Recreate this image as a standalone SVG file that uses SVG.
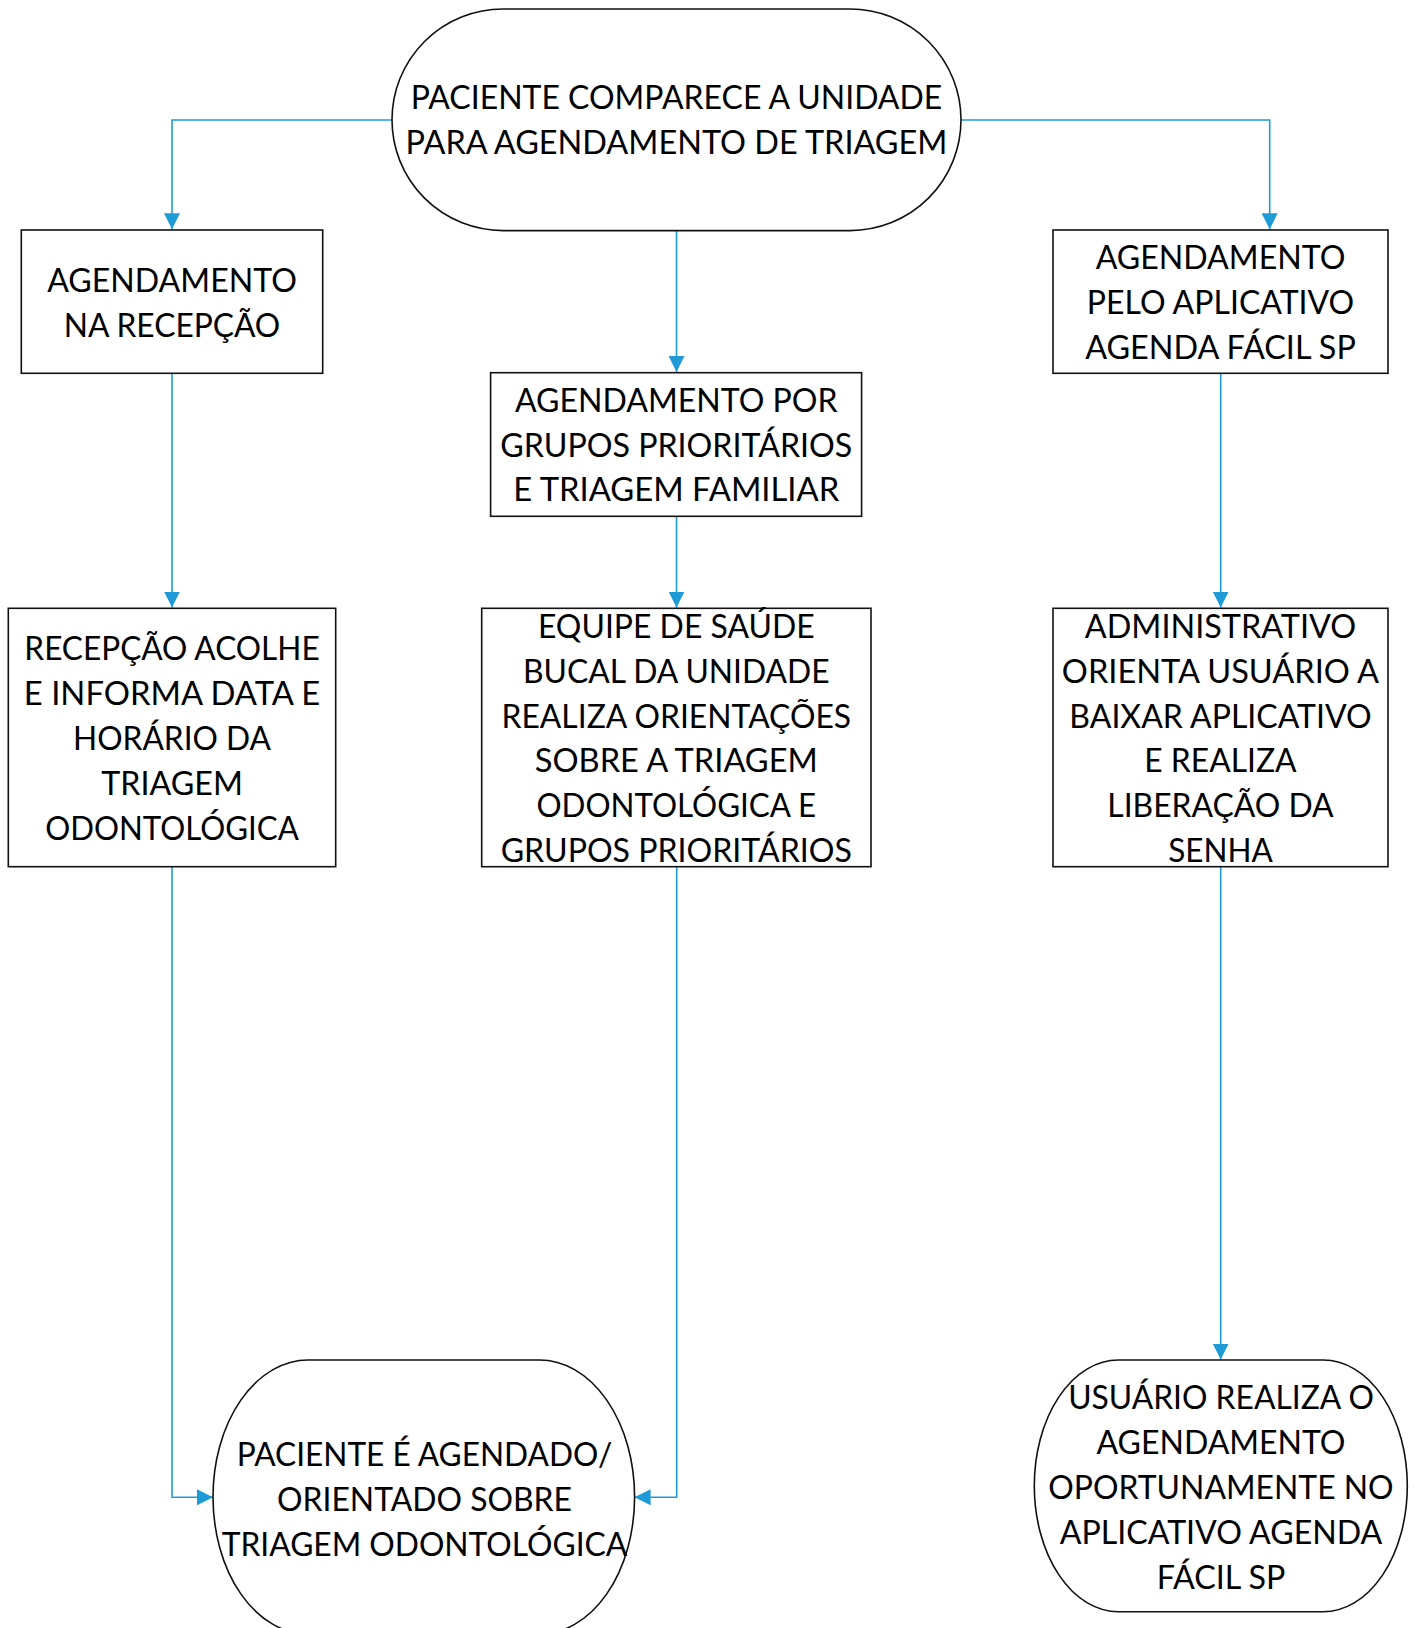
<svg xmlns="http://www.w3.org/2000/svg" width="1418" height="1628" viewBox="0 0 1418 1628">
<style>
.shape{fill:#fff;stroke:#111;stroke-width:1.6}
.lbl{font-family:Lato,"Open Sans","Liberation Sans",sans-serif;font-size:33px;fill:#000;text-anchor:middle}
.conn{fill:none;stroke:#1e9bd7;stroke-width:1.6}
</style>
<defs>
<marker id="arr" markerUnits="userSpaceOnUse" viewBox="0 0 16 16" markerWidth="16" markerHeight="16" refX="16" refY="8" orient="auto">
<path d="M0,0 L16,8 L0,16 z" fill="#1e9bd7"/>
</marker>
</defs>
<rect width="1418" height="1628" fill="#fff"/>
<g id="connectors">
<path class="conn" d="M392,120 H172 V229.3" marker-end="url(#arr)"/>
<path class="conn" d="M961,120 H1269.7 V229.3" marker-end="url(#arr)"/>
<path class="conn" d="M676.5,230.6 V372" marker-end="url(#arr)"/>
<path class="conn" d="M676.5,516.3 V607.6" marker-end="url(#arr)"/>
<path class="conn" d="M172,373.3 V607.6" marker-end="url(#arr)"/>
<path class="conn" d="M1220.7,373.3 V607.6" marker-end="url(#arr)"/>
<path class="conn" d="M172,866.7 V1497.3 H213" marker-end="url(#arr)"/>
<path class="conn" d="M676.7,866.7 V1497.3 H634.6" marker-end="url(#arr)"/>
<path class="conn" d="M1220.7,866.7 V1359.6" marker-end="url(#arr)"/>
</g>
<g id="n1">
<rect class="shape" x="392" y="9" width="569" height="221.6" rx="111" ry="110.8"/>
<text class="lbl" x="676.5" y="109.4" textLength="531.6" lengthAdjust="spacingAndGlyphs">PACIENTE COMPARECE A UNIDADE</text>
<text class="lbl" x="676.5" y="154.3" textLength="541.8" lengthAdjust="spacingAndGlyphs">PARA AGENDAMENTO DE TRIAGEM</text>
</g>
<g id="n2">
<rect class="shape" x="21.3" y="230" width="301.4" height="143.3"/>
<text class="lbl" x="172" y="291.7" textLength="249.7" lengthAdjust="spacingAndGlyphs">AGENDAMENTO</text>
<text class="lbl" x="172" y="336.7" textLength="216.6" lengthAdjust="spacingAndGlyphs">NA RECEPÇÃO</text>
</g>
<g id="n3">
<rect class="shape" x="490.6" y="372.7" width="371" height="143.6"/>
<text class="lbl" x="676.3" y="412" textLength="322.6" lengthAdjust="spacingAndGlyphs">AGENDAMENTO POR</text>
<text class="lbl" x="676.3" y="456.5" textLength="352" lengthAdjust="spacingAndGlyphs">GRUPOS PRIORITÁRIOS</text>
<text class="lbl" x="676.3" y="501" textLength="326" lengthAdjust="spacingAndGlyphs">E TRIAGEM FAMILIAR</text>
</g>
<g id="n4">
<rect class="shape" x="1053" y="230" width="335" height="143.3"/>
<text class="lbl" x="1220.5" y="269" textLength="249.7" lengthAdjust="spacingAndGlyphs">AGENDAMENTO</text>
<text class="lbl" x="1220.5" y="314" textLength="267.3" lengthAdjust="spacingAndGlyphs">PELO APLICATIVO</text>
<text class="lbl" x="1220.5" y="359" textLength="270.7" lengthAdjust="spacingAndGlyphs">AGENDA FÁCIL SP</text>
</g>
<g id="n5">
<rect class="shape" x="8.3" y="608.3" width="327.4" height="258.4"/>
<text class="lbl" x="172" y="660" textLength="295.3" lengthAdjust="spacingAndGlyphs">RECEPÇÃO ACOLHE</text>
<text class="lbl" x="172" y="705" textLength="296.3" lengthAdjust="spacingAndGlyphs">E INFORMA DATA E</text>
<text class="lbl" x="172" y="750" textLength="198" lengthAdjust="spacingAndGlyphs">HORÁRIO DA</text>
<text class="lbl" x="172" y="795" textLength="141.7" lengthAdjust="spacingAndGlyphs">TRIAGEM</text>
<text class="lbl" x="172" y="840" textLength="253.7" lengthAdjust="spacingAndGlyphs">ODONTOLÓGICA</text>
</g>
<g id="n6">
<rect class="shape" x="481.7" y="608.3" width="389.3" height="258.4"/>
<text class="lbl" x="676.3" y="638.3" textLength="276.7" lengthAdjust="spacingAndGlyphs">EQUIPE DE SAÚDE</text>
<text class="lbl" x="676.3" y="683" textLength="306.7" lengthAdjust="spacingAndGlyphs">BUCAL DA UNIDADE</text>
<text class="lbl" x="676.3" y="727.6" textLength="349.7" lengthAdjust="spacingAndGlyphs">REALIZA ORIENTAÇÕES</text>
<text class="lbl" x="676.3" y="772.3" textLength="283" lengthAdjust="spacingAndGlyphs">SOBRE A TRIAGEM</text>
<text class="lbl" x="676.3" y="817" textLength="279.7" lengthAdjust="spacingAndGlyphs">ODONTOLÓGICA E</text>
<text class="lbl" x="676.3" y="861.7" textLength="351.3" lengthAdjust="spacingAndGlyphs">GRUPOS PRIORITÁRIOS</text>
</g>
<g id="n7">
<rect class="shape" x="1053" y="608.3" width="335" height="258.4"/>
<text class="lbl" x="1220.5" y="638.3" textLength="271.3" lengthAdjust="spacingAndGlyphs">ADMINISTRATIVO</text>
<text class="lbl" x="1220.5" y="683" textLength="317.3" lengthAdjust="spacingAndGlyphs">ORIENTA USUÁRIO A</text>
<text class="lbl" x="1220.5" y="727.6" textLength="302.3" lengthAdjust="spacingAndGlyphs">BAIXAR APLICATIVO</text>
<text class="lbl" x="1220.5" y="772.3" textLength="152.3" lengthAdjust="spacingAndGlyphs">E REALIZA</text>
<text class="lbl" x="1220.5" y="817" textLength="226.3" lengthAdjust="spacingAndGlyphs">LIBERAÇÃO DA</text>
<text class="lbl" x="1220.5" y="861.7" textLength="104.7" lengthAdjust="spacingAndGlyphs">SENHA</text>
</g>
<g id="n8">
<rect class="shape" x="213" y="1360" width="421.6" height="274" rx="95" ry="137"/>
<text class="lbl" x="424.5" y="1466" textLength="375.4" lengthAdjust="spacingAndGlyphs">PACIENTE É AGENDADO/</text>
<text class="lbl" x="424.5" y="1511" textLength="295" lengthAdjust="spacingAndGlyphs">ORIENTADO SOBRE</text>
<text class="lbl" x="424.5" y="1556" textLength="405.6" lengthAdjust="spacingAndGlyphs">TRIAGEM ODONTOLÓGICA</text>
</g>
<g id="n9">
<rect class="shape" x="1034.3" y="1360" width="373" height="251.7" rx="84" ry="125.8"/>
<text class="lbl" x="1221" y="1408.5" textLength="305.7" lengthAdjust="spacingAndGlyphs">USUÁRIO REALIZA O</text>
<text class="lbl" x="1221" y="1453.5" textLength="249" lengthAdjust="spacingAndGlyphs">AGENDAMENTO</text>
<text class="lbl" x="1221" y="1498.5" textLength="345.3" lengthAdjust="spacingAndGlyphs">OPORTUNAMENTE NO</text>
<text class="lbl" x="1221" y="1543.5" textLength="322.7" lengthAdjust="spacingAndGlyphs">APLICATIVO AGENDA</text>
<text class="lbl" x="1221" y="1588.5" textLength="128.7" lengthAdjust="spacingAndGlyphs">FÁCIL SP</text>
</g>
</svg>
